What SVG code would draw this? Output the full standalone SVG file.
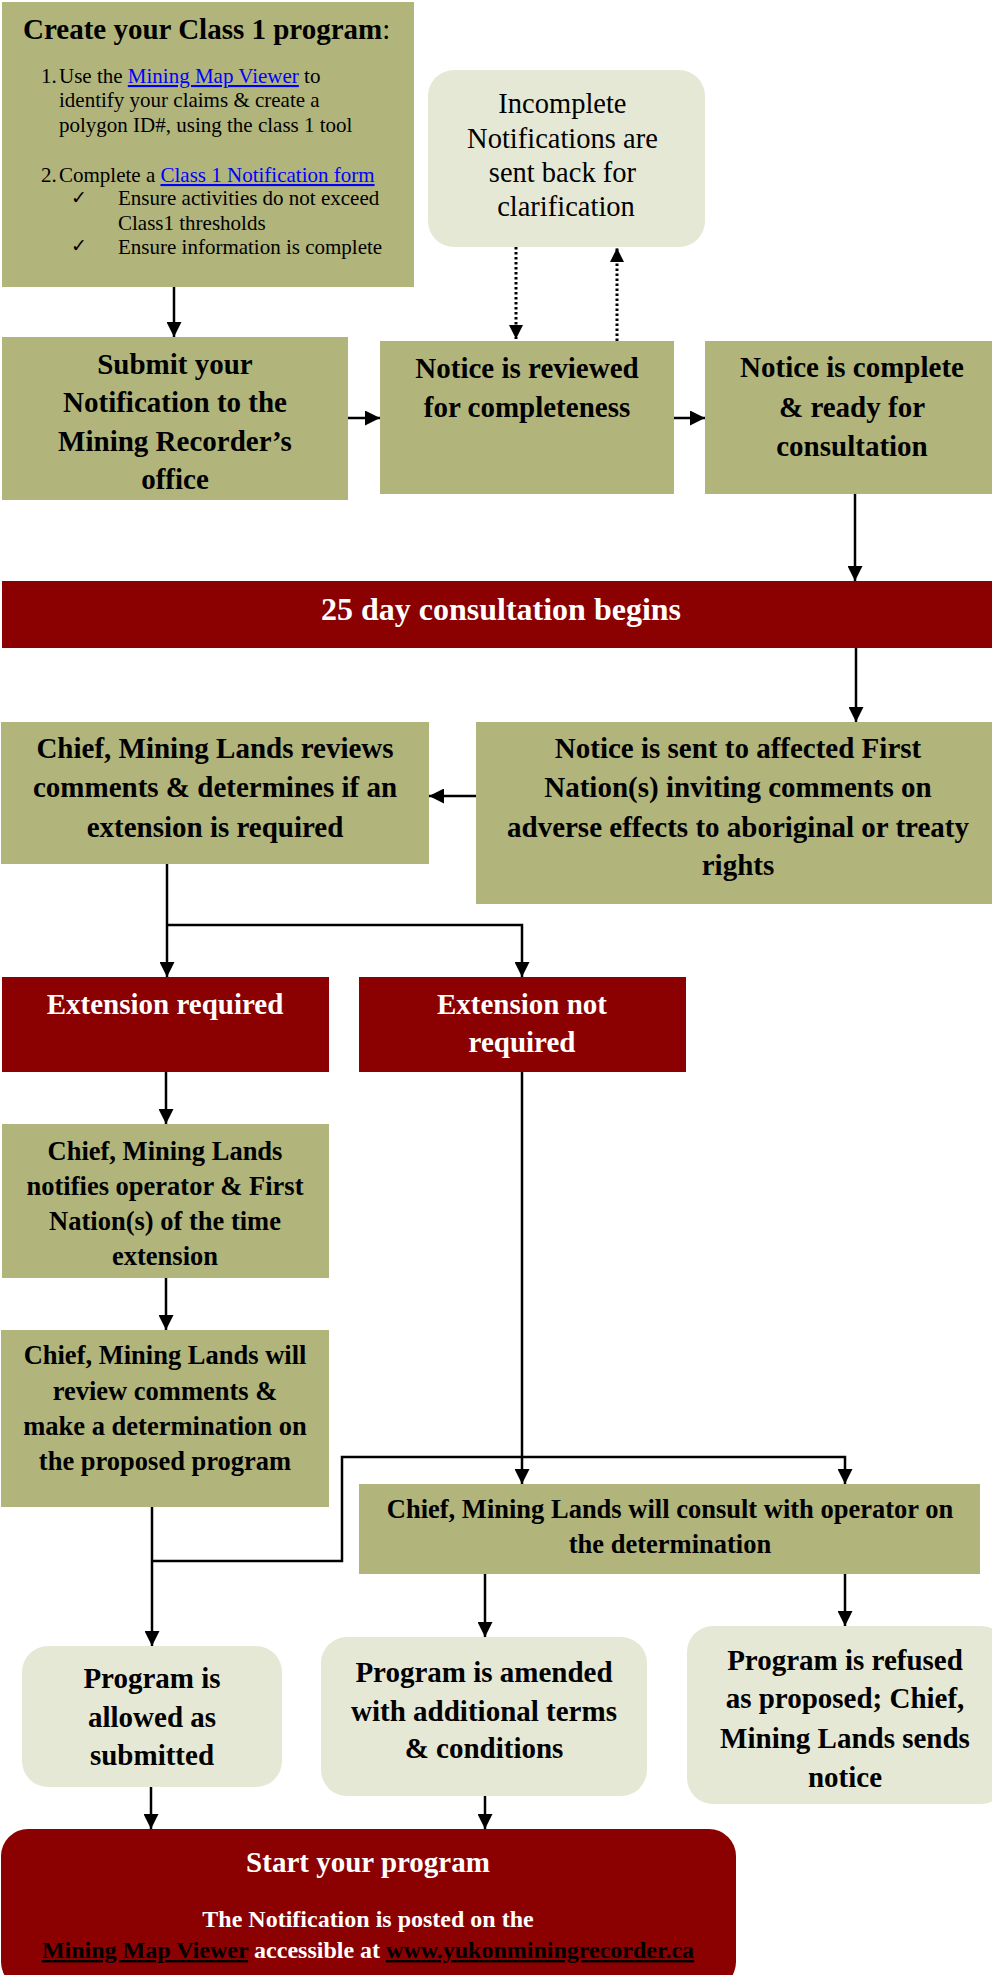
<svg xmlns="http://www.w3.org/2000/svg" width="992" height="1975" viewBox="0 0 992 1975">
<style>
.olive{fill:#B1B57B}
.light{fill:#E6E8D6}
.red{fill:#8B0000}
text{font-family:"Liberation Serif","Times New Roman",serif}
.b{font-weight:bold;font-size:29px;text-anchor:middle;fill:#000}
.bs{font-weight:bold;font-size:26.5px;text-anchor:middle;fill:#000}
.w{font-weight:bold;font-size:29px;text-anchor:middle;fill:#fff}
.r{font-size:21px;fill:#000}
.link{fill:#0000FF;text-decoration:underline}
.chk{font-family:"DejaVu Sans",sans-serif;font-size:19px}
.conn{fill:none;stroke:#000;stroke-width:2.5}
.dot{fill:none;stroke:#000;stroke-width:3;stroke-dasharray:2.5 2.5}
</style>
<defs>
<marker id="ah" viewBox="0 0 10 10" refX="10" refY="5" markerUnits="userSpaceOnUse" markerWidth="15" markerHeight="15" orient="auto">
<path d="M0,0 L10,5 L0,10 z" fill="#000"/>
</marker>
<marker id="ahs" viewBox="0 0 10 10" refX="10" refY="5" markerUnits="userSpaceOnUse" markerWidth="14" markerHeight="14" orient="auto">
<path d="M0,0 L10,5 L0,10 z" fill="#000"/>
</marker>
</defs>

<g id="connectors">
<path class="conn" d="M174,287 V337" marker-end="url(#ah)"/>
<path class="dot" d="M516,247 V339" marker-end="url(#ahs)"/>
<path class="dot" d="M617,341 V248" marker-end="url(#ahs)"/>
<path class="conn" d="M348,418 H380" marker-end="url(#ah)"/>
<path class="conn" d="M674,418 H705" marker-end="url(#ah)"/>
<path class="conn" d="M855,494 V581" marker-end="url(#ah)"/>
<path class="conn" d="M856,648 V722" marker-end="url(#ah)"/>
<path class="conn" d="M476,796 H429" marker-end="url(#ah)"/>
<path class="conn" d="M167,864 V977" marker-end="url(#ah)"/>
<path class="conn" d="M167,925 H522 V977" marker-end="url(#ah)"/>
<path class="conn" d="M166,1072 V1124" marker-end="url(#ah)"/>
<path class="conn" d="M166,1278 V1330" marker-end="url(#ah)"/>
<path class="conn" d="M522,1072 V1484" marker-end="url(#ah)"/>
<path class="conn" d="M152,1507 V1646" marker-end="url(#ah)"/>
<path class="conn" d="M152,1561 H342 V1457 H845 V1484" marker-end="url(#ah)"/>
<path class="conn" d="M485,1574 V1637" marker-end="url(#ah)"/>
<path class="conn" d="M845,1574 V1626" marker-end="url(#ah)"/>
<path class="conn" d="M151,1787 V1829" marker-end="url(#ah)"/>
<path class="conn" d="M485,1796 V1829" marker-end="url(#ah)"/>
</g>

<g id="create">
<rect class="olive" x="2" y="2" width="412" height="285"/>
<text x="23" y="39" style="font-weight:bold;font-size:29px">Create your Class 1 program<tspan style="font-weight:normal">:</tspan></text>
<text class="r" x="41" y="83">1.</text>
<text class="r" x="59" y="83">Use the <tspan class="link">Mining Map Viewer</tspan> to</text>
<text class="r" x="59" y="107">identify your claims &amp; create a</text>
<text class="r" x="59" y="132">polygon ID#, using the class 1 tool</text>
<text class="r" x="41" y="182">2.</text>
<text class="r" x="59" y="182">Complete a <tspan class="link">Class 1 Notification form</tspan></text>
<text class="chk" x="71" y="204">✓</text>
<text class="r" x="118" y="205">Ensure activities do not exceed</text>
<text class="r" x="118" y="230">Class1 thresholds</text>
<text class="chk" x="71" y="252">✓</text>
<text class="r" x="118" y="254">Ensure information is complete</text>
</g>

<g id="incomplete">
<rect class="light" x="428" y="70" width="277" height="177" rx="26"/>
<text style="font-size:28.5px;text-anchor:middle" x="566">
<tspan x="566" y="113">Incomplete</tspan>
<tspan x="566" y="147.5">Notifications are</tspan>
<tspan x="566" y="181.5">sent back for</tspan>
<tspan x="566" y="215.5">clarification</tspan>
</text>
</g>

<g id="submit">
<rect class="olive" x="2" y="337" width="346" height="163"/>
<text class="b"><tspan x="175" y="374">Submit your</tspan><tspan x="175" y="412">Notification to the</tspan><tspan x="175" y="450.5">Mining Recorder’s</tspan><tspan x="175" y="489">office</tspan></text>
</g>

<g id="reviewed">
<rect class="olive" x="380" y="341" width="294" height="153"/>
<text class="b"><tspan x="527" y="378">Notice is reviewed</tspan><tspan x="527" y="417">for completeness</tspan></text>
</g>

<g id="complete">
<rect class="olive" x="705" y="341" width="295" height="153"/>
<text class="b"><tspan x="852" y="377">Notice is complete</tspan><tspan x="852" y="417">&amp; ready for</tspan><tspan x="852" y="456">consultation</tspan></text>
</g>

<g id="consultation">
<rect class="red" x="2" y="581" width="998" height="67"/>
<text class="w" style="font-size:32px" x="501" y="620">25 day consultation begins</text>
</g>

<g id="chief-reviews">
<rect class="olive" x="1" y="722" width="428" height="142"/>
<text class="b"><tspan x="215" y="758">Chief, Mining Lands reviews</tspan><tspan x="215" y="797">comments &amp; determines if an</tspan><tspan x="215" y="837">extension is required</tspan></text>
</g>

<g id="notice-sent">
<rect class="olive" x="476" y="722" width="524" height="182"/>
<text class="b"><tspan x="738" y="758">Notice is sent to affected First</tspan><tspan x="738" y="797">Nation(s) inviting comments on</tspan><tspan x="738" y="837">adverse effects to aboriginal or treaty</tspan><tspan x="738" y="875">rights</tspan></text>
</g>

<g id="ext-required">
<rect class="red" x="2" y="977" width="327" height="95"/>
<text class="w" x="165" y="1014">Extension required</text>
</g>

<g id="ext-not-required">
<rect class="red" x="359" y="977" width="327" height="95"/>
<text class="w"><tspan x="522" y="1014">Extension not</tspan><tspan x="522" y="1052">required</tspan></text>
</g>

<g id="chief-notifies">
<rect class="olive" x="2" y="1124" width="327" height="154"/>
<text class="bs"><tspan x="165" y="1160">Chief, Mining Lands</tspan><tspan x="165" y="1195">notifies operator &amp; First</tspan><tspan x="165" y="1230">Nation(s) of the time</tspan><tspan x="165" y="1265">extension</tspan></text>
</g>

<g id="chief-review-determine">
<rect class="olive" x="1" y="1330" width="328" height="177"/>
<text class="bs"><tspan x="165" y="1364">Chief, Mining Lands will</tspan><tspan x="165" y="1400">review comments &amp;</tspan><tspan x="165" y="1435">make a determination on</tspan><tspan x="165" y="1470">the proposed program</tspan></text>
</g>

<g id="chief-consult">
<rect class="olive" x="359" y="1484" width="621" height="90"/>
<text class="bs"><tspan x="670" y="1518">Chief, Mining Lands will consult with operator on</tspan><tspan x="670" y="1553">the determination</tspan></text>
</g>

<g id="allowed">
<rect class="light" x="22" y="1646" width="260" height="141" rx="26"/>
<text class="b"><tspan x="152" y="1688">Program is</tspan><tspan x="152" y="1727">allowed as</tspan><tspan x="152" y="1765">submitted</tspan></text>
</g>

<g id="amended">
<rect class="light" x="321" y="1637" width="326" height="159" rx="26"/>
<text class="b"><tspan x="484" y="1682">Program is amended</tspan><tspan x="484" y="1721">with additional terms</tspan><tspan x="484" y="1758">&amp; conditions</tspan></text>
</g>

<g id="refused">
<rect class="light" x="687" y="1626" width="320" height="178" rx="26"/>
<text class="b"><tspan x="845" y="1670">Program is refused</tspan><tspan x="845" y="1708">as proposed; Chief,</tspan><tspan x="845" y="1748">Mining Lands sends</tspan><tspan x="845" y="1787">notice</tspan></text>
</g>

<g id="start">
<rect class="red" x="1" y="1829" width="735" height="160" rx="27"/>
<text class="w" x="368" y="1872">Start your program</text>
<text class="w" style="font-size:24px" x="368" y="1927">The Notification is posted on the</text>
<text class="w" style="font-size:24px" x="368" y="1958"><tspan style="fill:#000;text-decoration:underline">Mining Map Viewer</tspan> accessible at <tspan style="fill:#000;text-decoration:underline">www.yukonminingrecorder.ca</tspan></text>
</g>
</svg>
